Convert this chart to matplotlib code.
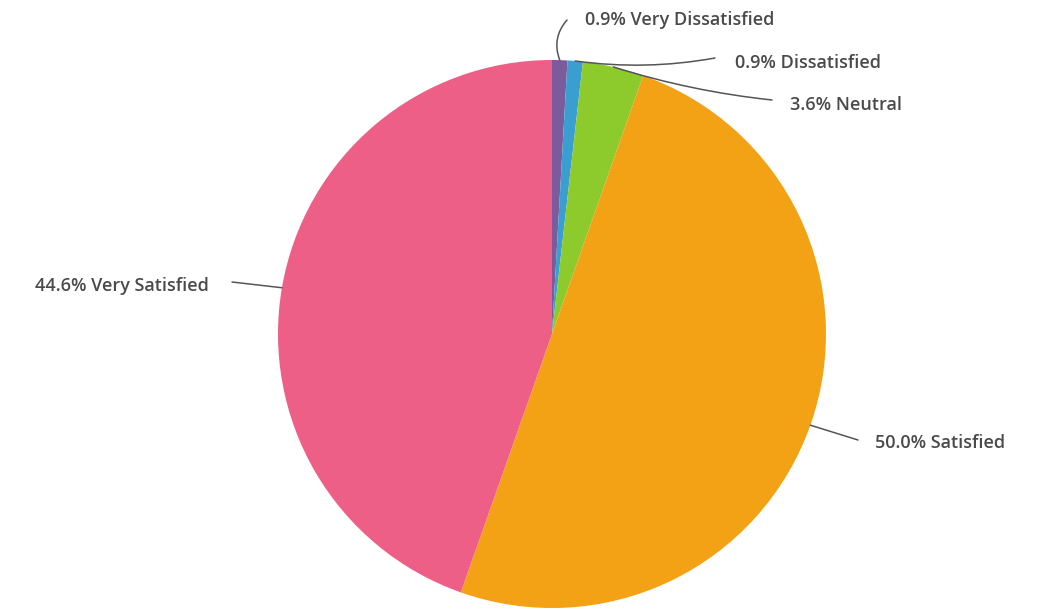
import matplotlib
matplotlib.use('Agg')
import matplotlib.pyplot as plt
import numpy as np

labels = ['Very Dissatisfied', 'Dissatisfied', 'Neutral', 'Satisfied', 'Very Satisfied']
shares = [0.9, 0.9, 3.6, 50.0, 44.6]
colors = ['#7a5c9c', '#3a9fd0', '#8dcb2c', '#f3a215', '#ee5f87']

# label anchor (text start) and leader-line end, in pixel units
text_pos = [(585, 590), (735, 547), (790, 505), (875, 167), (35, 324)]
line_end = [(567, 590), (715, 552), (772, 510), (858, 170), (232, 328)]
line_bend = [0.3, -0.08, -0.05, 0.0, 0.0]

W, H = 1047, 610
cx, cy, r = 552, 276, 274

fig = plt.figure(figsize=(W / 100, H / 100), dpi=100)
ax = fig.add_axes([0, 0, 1, 1])

wedges, _ = ax.pie(shares, colors=colors, startangle=90, counterclock=False,
                   center=(cx, cy), radius=r, frame=True,
                   wedgeprops=dict(linewidth=0))
ax.set_xlim(0, W)
ax.set_ylim(0, H)
ax.axis('off')

for w, lab, val, tp, le, rad in zip(wedges, labels, shares, text_pos, line_end, line_bend):
    ang = np.deg2rad((w.theta1 + w.theta2) / 2)
    px, py = cx + r * np.cos(ang), cy + r * np.sin(ang)
    ax.annotate('', xy=(px, py), xytext=le,
                arrowprops=dict(arrowstyle='-', color='#555555', lw=1.1,
                                shrinkA=0, shrinkB=0,
                                connectionstyle='arc3,rad=%.2f' % rad))
    ax.text(tp[0], tp[1], '%.1f%% %s' % (val, lab), ha='left', va='center',
            fontsize=13, fontfamily='Open Sans', fontweight='semibold',
            color='#4a4a4a')

fig.savefig('out.png', dpi=100)
